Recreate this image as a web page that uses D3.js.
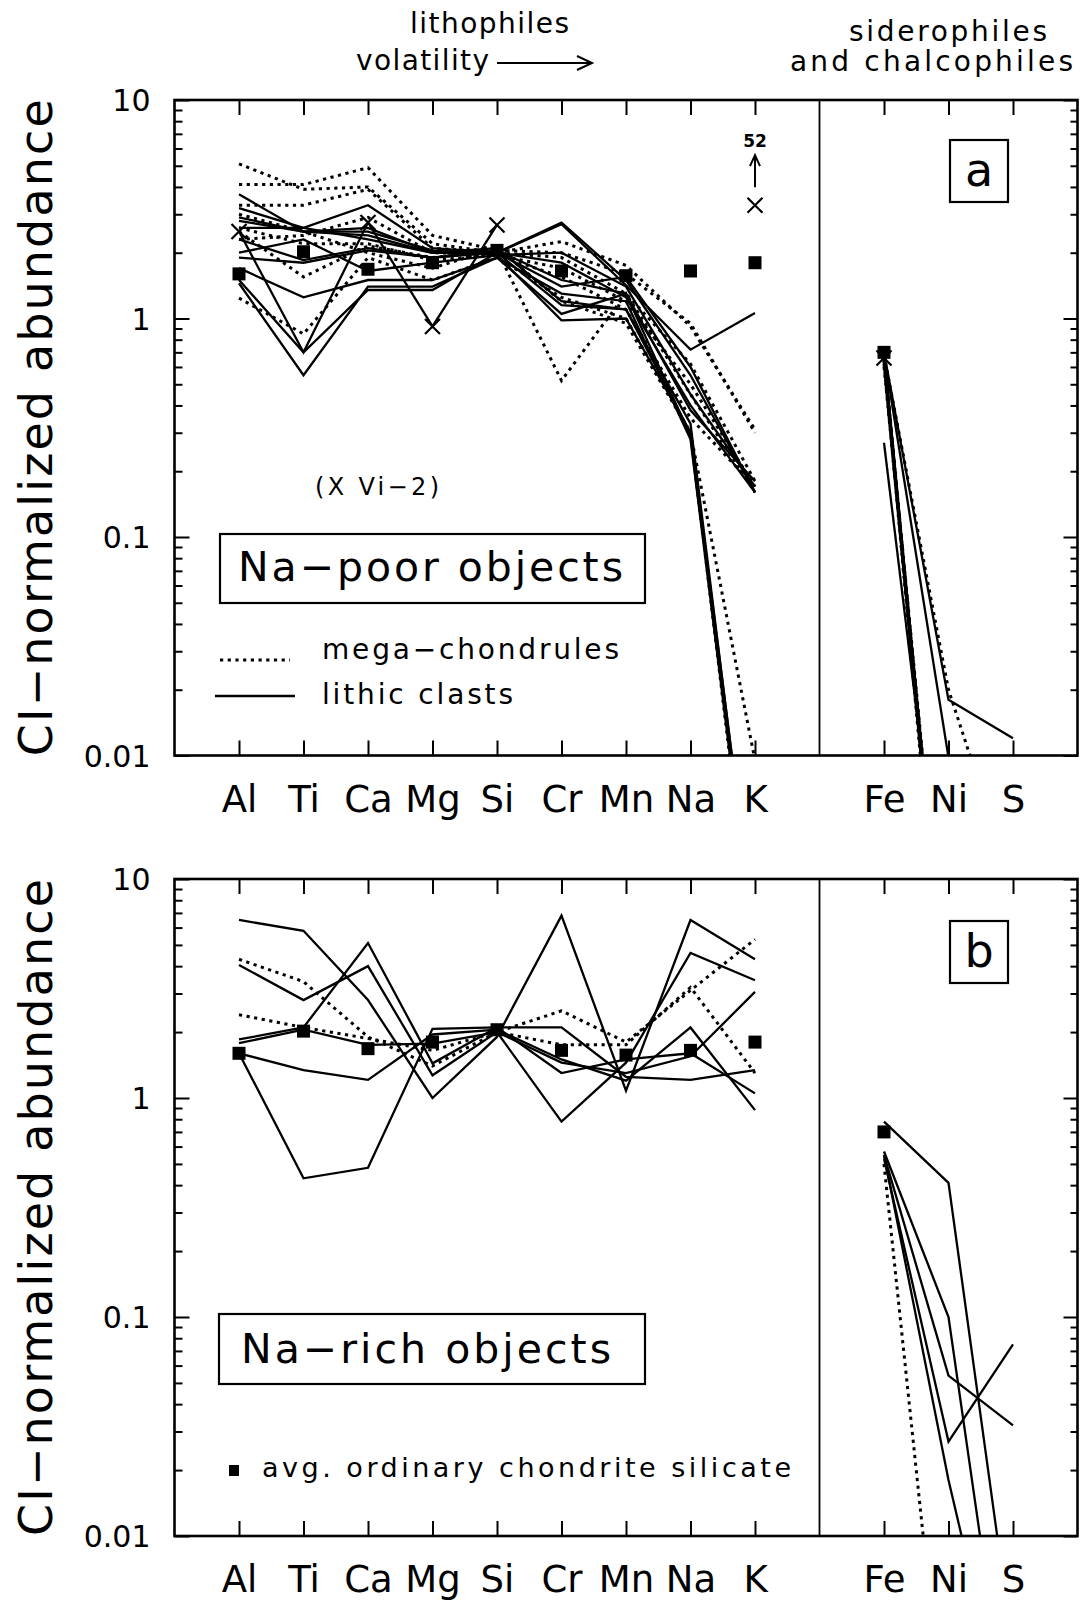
<!DOCTYPE html>
<html>
<head>
<meta charset="utf-8">
<script src="https://cdn.jsdelivr.net/npm/d3@7"></script>
<style>
  body { margin: 0; background: #fff; }
  text { font-family: "DejaVu Sans", sans-serif; fill: #000; }
</style>
</head>
<body>
<svg id="chart" width="1081" height="1604"></svg>
<script>
// element order along the x axis
var lithophiles = ["Al", "Ti", "Ca", "Mg", "Si", "Cr", "Mn", "Na", "K"];
var siderophiles = ["Fe", "Ni", "S"];

// y axis (CI-normalized abundance, log)
var majorTicks = [0.01, 0.1, 1, 10];
var majorTickLabels = ["0.01", "0.1", "1", "10"];

// avg. ordinary chondrite silicate (same in both panels)
var avgChondrite = [1.6, 2.02, 1.68, 1.8, 2.05, 1.65, 1.57, 1.65, 1.8];
var avgChondriteFe = [0.7, null, null];

// ---- panel a: Na-poor objects ----
// mega-chondrules (dotted)
var poorMegaLitho = [
  [5.1, 3.9, 4.0, 2.2, 2.0, 2.25, 1.75, 0.92, 0.31],
  [4.1, 4.1, 4.9, 2.4, 2.05, 2.0, 1.6, 0.95, 0.3],
  [3.3, 3.3, 3.9, 2.1, 2.0, 1.9, 1.3, 0.62, 0.18],
  [2.3, 2.4, 2.9, 2.0, 1.95, 1.7, 1.2, 0.5, 0.17],
  [2.5, 1.55, 2.15, 1.9, 2.05, 0.52, 1.3, 0.45, 0.16],
  [1.24, 0.85, 1.9, 1.5, 1.9, 1.25, 1.0, 0.3, 0.0095],
  [2.6, 2.2, 2.2, 1.85, 1.95, 1.55, 1.1, 0.35, 0.17],
  [3.0, 2.5, 2.0, 1.7, 2.1, 1.2, 0.95, 0.3, 0.0011]
];
var poorMegaSidero = [
  [0.68, 0.02, 0.0025],
  [0.7, 0.0005, null],
  [0.67, 0.0006, null],
  [0.65, 0.0005, null],
  [0.64, 0.0004, null],
  [0.62, 0.0005, null],
  [0.6, 0.0006, null],
  [0.66, 0.0005, null]
];
// lithic clasts (solid)
var poorClastLitho = [
  [3.7, 2.5, 2.6, 2.0, 2.0, 2.7, 1.42, 0.72, 1.06],
  [3.2, 2.6, 2.3, 2.0, 2.0, 2.75, 1.5, 0.55, 0.16],
  [2.8, 2.5, 2.5, 2.05, 1.95, 2.0, 1.4, 0.45, 0.17],
  [2.6, 2.6, 3.3, 2.1, 2.0, 1.8, 1.25, 0.4, 0.16],
  [1.9, 1.8, 2.05, 1.9, 2.05, 1.5, 1.3, 0.38, 0.18],
  [1.7, 1.25, 1.5, 1.5, 1.9, 1.05, 1.3, 0.29, 0.0014],
  [1.5, 0.7, 1.35, 1.35, 2.0, 1.15, 1.1, 0.3, 0.0013],
  [1.45, 0.55, 1.4, 1.4, 1.9, 1.3, 1.2, 0.28, 0.0012],
  [2.0, 2.3, 1.65, 1.8, 1.95, 0.98, 1.0, 0.3, 0.0015],
  [2.3, 1.85, 2.1, 1.9, 2.0, 1.4, 1.55, 0.6, 0.16],
  [2.9, 2.5, 2.4, 2.0, 2.1, 1.2, 1.1, 0.33, 0.0014]
];
var poorClastSidero = [
  [0.7, 0.018, 0.012],
  [0.69, 0.0098, null],
  [0.27, 0.001, null],
  [0.7, 0.0005, null],
  [0.66, 0.0005, null],
  [0.68, 0.0005, null],
  [0.69, 0.0004, null],
  [0.7, 0.0005, null],
  [0.7, 0.00045, null],
  [0.67, 0.0005, null],
  [0.65, 0.0006, null]
];
// Vi-2 (X), K is off scale at 52
var vi2Litho = [2.5, 0.7, 2.75, 0.92, 2.68, null, null, null, 3.3];
var vi2Marked = ["Al", "Ca", "Mg", "Si", "K"];
var vi2Sidero = [0.66, null, null];

// ---- panel b: Na-rich objects ----
var richMegaLitho = [
  [4.3, 3.4, 1.9, 1.4, 2.0, 2.5, 1.8, 3.1, 5.3],
  [2.4, 2.1, 1.87, 1.65, 2.0, 1.75, 1.75, 3.2, 1.3]
];
var richMegaSidero = [
  [0.5, 0.0008, null],
  [null, null, null]
];
var richClastLitho = [
  [6.5, 5.8, 2.8, 1.0, 1.9, 6.8, 1.08, 6.5, 4.3],
  [4.05, 2.8, 4.0, 1.27, 2.0, 0.78, 1.45, 4.6, 3.45],
  [1.85, 2.1, 5.1, 1.44, 2.1, 2.1, 1.25, 1.21, 1.34],
  [1.6, 1.34, 1.21, 1.95, 2.05, 1.5, 1.2, 2.1, 0.88],
  [1.6, 0.43, 0.48, 2.07, 2.1, 1.3, 1.5, 1.6, 1.05],
  [1.78, 2.05, 1.75, 1.77, 2.0, 1.45, 1.3, 1.55, 3.05]
];
var richClastSidero = [
  [0.78, 0.41, 0.003],
  [0.57, 0.1, 0.0009],
  [0.55, 0.054, 0.032],
  [0.53, 0.027, 0.075],
  [0.55, 0.018, 0.001],
  [null, null, null]
];

var svg = d3.select("#chart");

// one empty slot before Al, one for the divider and one after S
var xSlots = ["L"].concat(lithophiles, ["D"], siderophiles, ["R"]);
var x = d3.scalePoint().domain(xSlots).range([174.5, 1077.5]);

var panels = [
  {
    name: "a", top: 100, bottom: 755.5,
    mega: [poorMegaLitho, poorMegaSidero],
    clast: [poorClastLitho, poorClastSidero]
  },
  {
    name: "b", top: 879, bottom: 1536,
    mega: [richMegaLitho, richMegaSidero],
    clast: [richClastLitho, richClastSidero]
  }
];

/**
 * Turns one row of values into points for the line generator.
 * @param {string[]} els - element names
 * @param {number[]} vals - abundances
 */
function toPoints(els, vals) {
  return els.map(function (el, i) {
    return { el: el, v: vals[i] };
  });
}

/**
 * Draws one panel: data lines, markers, frame, ticks and labels.
 * @param {object} p - panel settings
 * @param {number} idx - panel index
 */
function drawPanel(p, idx) {
  var y = d3.scaleLog().domain([0.01, 10]).range([p.bottom, p.top]);
  var x0 = x("L"), x1 = x("R");

  var line = d3
    .line()
    .defined(function (d) {
      return d.v != null;
    })
    .x(function (d) {
      return x(d.el);
    })
    .y(function (d) {
      return y(d.v);
    });

  // clip everything that drops below 0.01
  svg
    .append("clipPath")
    .attr("id", "clip" + idx)
    .append("rect")
    .attr("x", x0)
    .attr("y", p.top)
    .attr("width", x1 - x0)
    .attr("height", p.bottom - p.top);

  var g = svg.append("g").attr("clip-path", "url(#clip" + idx + ")");

  function drawSet(set, dotted) {
    var litho = set[0], sidero = set[1];
    litho.forEach(function (row, i) {
      var path = g
        .append("path")
        .attr("d", line(toPoints(lithophiles, row)))
        .attr("fill", "none")
        .attr("stroke", "#000");
      var path2 = g
        .append("path")
        .attr("d", line(toPoints(siderophiles, sidero[i])))
        .attr("fill", "none")
        .attr("stroke", "#000");
      [path, path2].forEach(function (pth) {
        if (dotted) {
          pth.attr("stroke-width", 3).attr("stroke-dasharray", "3.2,4.5");
        } else {
          pth.attr("stroke-width", 2.3);
        }
      });
    });
  }
  drawSet(p.clast, false);
  drawSet(p.mega, true);

  // Vi-2 only in panel a
  if (p.name == "a") {
    g.append("path")
      .attr("d", line(toPoints(lithophiles, vi2Litho)))
      .attr("fill", "none")
      .attr("stroke", "#000")
      .attr("stroke-width", 2.3);
    var marks = toPoints(lithophiles, vi2Litho)
      .filter(function (d) {
        return vi2Marked.indexOf(d.el) >= 0;
      })
      .concat(toPoints(siderophiles, vi2Sidero).filter(function (d) {
        return d.v != null;
      }));
    g.selectAll(".xmark")
      .data(marks)
      .enter()
      .append("path")
      .attr("d", function (d) {
        var cx = x(d.el), cy = y(d.v), s = 7.5;
        return "M" + (cx - s) + "," + (cy - s) + "L" + (cx + s) + "," + (cy + s) +
          "M" + (cx + s) + "," + (cy - s) + "L" + (cx - s) + "," + (cy + s);
      })
      .attr("stroke", "#000")
      .attr("stroke-width", 2.2)
      .attr("fill", "none");

    // off-scale value of K
    var kx = x("K"), ky = y(vi2Litho[8]);
    svg.append("path")
      .attr("d", "M" + kx + "," + (ky - 18) + "V" + (ky - 48) +
        "M" + (kx - 5) + "," + (ky - 39) + "L" + kx + "," + (ky - 50) + "L" + (kx + 5) + "," + (ky - 39))
      .attr("stroke", "#000")
      .attr("stroke-width", 2)
      .attr("fill", "none");
    svg.append("text")
      .attr("x", kx)
      .attr("y", ky - 58)
      .attr("text-anchor", "middle")
      .attr("font-size", "17px")
      .attr("font-weight", "bold")
      .text("52");
  }

  // avg. ordinary chondrite squares
  var sq = toPoints(lithophiles, avgChondrite)
    .concat(toPoints(siderophiles, avgChondriteFe))
    .filter(function (d) {
      return d.v != null;
    });
  svg.selectAll(".sq" + idx)
    .data(sq)
    .enter()
    .append("rect")
    .attr("x", function (d) {
      return x(d.el) - 6.5;
    })
    .attr("y", function (d) {
      return y(d.v) - 6.5;
    })
    .attr("width", 13)
    .attr("height", 13)
    .attr("fill", "#000");

  // frame and divider
  svg.append("rect")
    .attr("x", x0)
    .attr("y", p.top)
    .attr("width", x1 - x0)
    .attr("height", p.bottom - p.top)
    .attr("fill", "none")
    .attr("stroke", "#000")
    .attr("stroke-width", 2.6);
  svg.append("line")
    .attr("x1", x("D"))
    .attr("x2", x("D"))
    .attr("y1", p.top)
    .attr("y2", p.bottom)
    .attr("stroke", "#000")
    .attr("stroke-width", 1.8);

  // y axes: minor and major ticks inward on both sides
  var minors = y.ticks().filter(function (t) {
    return majorTicks.indexOf(t) < 0;
  });
  var leftMinor = svg.append("g").attr("transform", "translate(" + x0 + ",0)")
    .call(d3.axisLeft(y).tickValues(minors).tickSize(-8).tickSizeOuter(0).tickFormat(""));
  var leftMajor = svg.append("g").attr("transform", "translate(" + x0 + ",0)")
    .call(d3.axisLeft(y).tickValues(majorTicks).tickSize(-15).tickSizeOuter(0).tickPadding(24)
      .tickFormat(function (d, i) {
        return majorTickLabels[i];
      }));
  var rightMinor = svg.append("g").attr("transform", "translate(" + x1 + ",0)")
    .call(d3.axisRight(y).tickValues(minors).tickSize(-7).tickSizeOuter(0).tickFormat(""));
  var rightMajor = svg.append("g").attr("transform", "translate(" + x1 + ",0)")
    .call(d3.axisRight(y).tickValues(majorTicks).tickSize(-14).tickSizeOuter(0).tickFormat(""));

  // x axes: ticks at every element, labels below
  var els = lithophiles.concat(siderophiles);
  var topAxis = svg.append("g").attr("transform", "translate(0," + p.top + ")")
    .call(d3.axisTop(x).tickValues(els).tickSize(-15).tickSizeOuter(0).tickFormat(""));
  var bottomAxis = svg.append("g").attr("transform", "translate(0," + p.bottom + ")")
    .call(d3.axisBottom(x).tickValues(els).tickSize(-15).tickSizeOuter(0).tickPadding(30));

  [leftMinor, leftMajor, rightMinor, rightMajor, topAxis, bottomAxis].forEach(function (ax) {
    ax.select(".domain").remove();
    ax.selectAll("line").attr("stroke-width", 2);
    ax.attr("font-family", null).attr("font-size", null);
  });
  leftMajor.selectAll("text").attr("font-size", "30px").attr("dy", "0.36em");
  bottomAxis.selectAll("text").attr("font-size", "37px");

  // y title
  svg.append("text")
    .attr("transform", "translate(52," + (p.top + p.bottom) / 2 + ") rotate(-90)")
    .attr("text-anchor", "middle")
    .attr("font-size", "46px")
    .attr("textLength", 657)
    .attr("lengthAdjust", "spacing")
    .text("CI\u2212normalized abundance");

  // panel letter in a box
  var bx = 950, by = p.name == "a" ? 140 : 921;
  svg.append("rect")
    .attr("x", bx).attr("y", by).attr("width", 58).attr("height", 62)
    .attr("fill", "#fff").attr("stroke", "#000").attr("stroke-width", 2.2);
  svg.append("text")
    .attr("x", bx + 29).attr("y", by + 46)
    .attr("text-anchor", "middle")
    .attr("font-size", "46px")
    .text(p.name);
}

panels.forEach(drawPanel);

// --- headings ---
function label(txt, xs, ys, size, len) {
  return svg.append("text")
    .attr("x", xs)
    .attr("y", ys)
    .attr("font-size", size + "px")
    .attr("textLength", len)
    .attr("lengthAdjust", "spacing")
    .text(txt);
}
label("lithophiles", 410, 33, 28, 159);
label("volatility", 356, 70, 28, 133);
label("siderophiles", 849, 41, 28, 198);
label("and chalcophiles", 790, 71, 28, 283);
svg.append("path")
  .attr("d", "M497,63H592M577,56L592,63L577,70")
  .attr("fill", "none")
  .attr("stroke", "#000")
  .attr("stroke-width", 2);

// --- panel a annotations ---
label("(X Vi\u22122)", 315, 495, 24, 124);
svg.append("rect")
  .attr("x", 220).attr("y", 534).attr("width", 425).attr("height", 69)
  .attr("fill", "#fff").attr("stroke", "#000").attr("stroke-width", 2.2);
label("Na\u2212poor objects", 238, 581, 41, 385);

svg.append("line")
  .attr("x1", 220).attr("x2", 290).attr("y1", 660).attr("y2", 660)
  .attr("stroke", "#000").attr("stroke-width", 3).attr("stroke-dasharray", "3.2,4.5");
label("mega\u2212chondrules", 322, 659, 28, 297);
svg.append("line")
  .attr("x1", 215).attr("x2", 295).attr("y1", 696).attr("y2", 696)
  .attr("stroke", "#000").attr("stroke-width", 2.3);
label("lithic clasts", 322, 704, 28, 191);

// --- panel b annotations ---
svg.append("rect")
  .attr("x", 219).attr("y", 1314).attr("width", 426).attr("height", 70)
  .attr("fill", "#fff").attr("stroke", "#000").attr("stroke-width", 2.2);
label("Na\u2212rich objects", 241, 1363, 41, 370);
svg.append("rect")
  .attr("x", 229).attr("y", 1465).attr("width", 10).attr("height", 11)
  .attr("fill", "#000");
label("avg. ordinary chondrite silicate", 262, 1477, 27, 529);
</script>
</body>
</html>
